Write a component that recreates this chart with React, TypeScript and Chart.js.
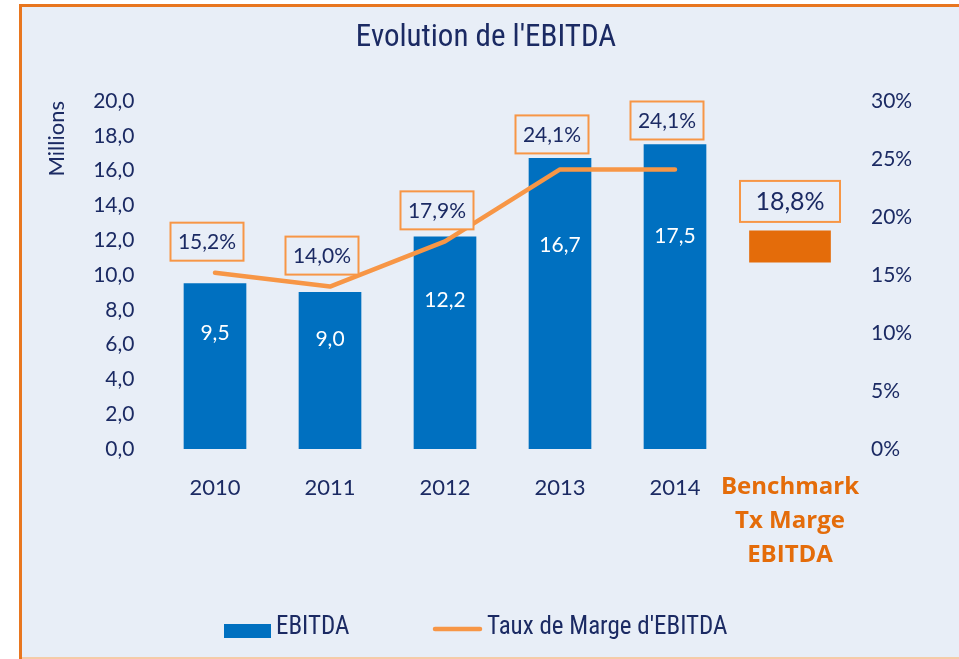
import React, { useEffect, useRef } from 'react';
import { Chart, registerables } from 'chart.js';

Chart.register(...registerables);

// ---- data ----
const categories: (string | string[])[] = ['2010', '2011', '2012', '2013', '2014', ['Benchmark', 'Tx Marge', 'EBITDA']];
const ebitdaMillions: number[] = [9.5, 9.0, 12.2, 16.7, 17.5];
const margeEbitdaPct: number[] = [15.2, 14.0, 17.9, 24.1, 24.1];
const benchmarkRangePct: [number, number] = [16.1, 18.8];
const benchmarkValuePct = 18.8;
const leftAxisRange = { min: 0, max: 20, step: 2 };
const rightAxisRange = { min: 0, max: 30, step: 5 };
const chartTitle = "Evolution de l'EBITDA";
const leftAxisTitle = 'Millions';
const legendBarLabel = 'EBITDA';
const legendLineLabel = "Taux de Marge d'EBITDA";

// ---- styles ----
const NAVY = '#1b2a63';
const BLUE = '#0070c0';
const LINE_ORANGE = '#f79646';
const BENCH_ORANGE = '#e46c0a';
const BG = '#e8eef7';
const BORDER_ORANGE = '#e8761f';
const NARROW = '"Liberation Sans Narrow", "Arial Narrow", "Roboto Condensed", "Open Sans", sans-serif';

const fmt = (v: number) => v.toFixed(1).replace('.', ',');

const bgPlugin = {
  id: 'bgPlugin',
  beforeDraw(chart: any) {
    const c = chart.ctx;
    const w = chart.width;
    const h = chart.height;
    c.save();
    c.fillStyle = '#ffffff';
    c.fillRect(0, 0, w, h);
    c.fillStyle = BG;
    c.fillRect(19, 4, w - 19, h - 4);
    c.fillStyle = BORDER_ORANGE;
    c.fillRect(19, 4, w - 19, 3);
    c.fillRect(19, 4, 3, h - 4);
    c.fillStyle = '#f5cba8';
    c.fillRect(22, h - 2, w - 22, 2);
    c.restore();
  },
};

function drawBox(c: CanvasRenderingContext2D, cx: number, bottom: number, w: number, h: number, text: string, font: string) {
  const x = cx - w / 2;
  const y = bottom - h;
  c.fillStyle = BG;
  c.fillRect(x, y, w, h);
  c.strokeStyle = LINE_ORANGE;
  c.lineWidth = 2;
  c.strokeRect(x, y, w, h);
  c.fillStyle = NAVY;
  c.font = font;
  c.textAlign = 'center';
  c.textBaseline = 'middle';
  c.fillText(text, cx, y + h / 2 + 1);
}

const labelPlugin = {
  id: 'labelPlugin',
  afterDatasetsDraw(chart: any) {
    const c = chart.ctx as CanvasRenderingContext2D;
    c.save();
    const barMeta = chart.getDatasetMeta(0);
    const lineMeta = chart.getDatasetMeta(1);
    const benchMeta = chart.getDatasetMeta(2);
    // values inside the bars
    ebitdaMillions.forEach((v, i) => {
      const el = barMeta.data[i];
      if (!el) return;
      const top = Math.min(el.y, el.base);
      const base = Math.max(el.y, el.base);
      c.fillStyle = '#ffffff';
      c.font = '21px Lato';
      c.textAlign = 'center';
      c.textBaseline = 'middle';
      c.fillText(fmt(v), el.x, top + (base - top) * 0.3);
    });
    // margin labels
    margeEbitdaPct.forEach((v, i) => {
      const pt = lineMeta.data[i];
      const bar = barMeta.data[i];
      if (!pt) return;
      const barTop = bar ? Math.min(bar.y, bar.base) : pt.y;
      const bottom = Math.min(pt.y - 12, barTop - 5);
      drawBox(c, pt.x - 8, bottom, 73, 38, fmt(v) + '%', '21px Lato');
    });
    // benchmark label
    const b = benchMeta.data[categories.length - 1];
    if (b) {
      const top = Math.min(b.y, b.base);
      drawBox(c, b.x, top - 9, 100, 41, fmt(benchmarkValuePct) + '%', '25px Lato');
    }
    c.restore();
  },
  afterDraw(chart: any) {
    const c = chart.ctx as CanvasRenderingContext2D;
    c.save();
    const ly = 630;
    // bar legend
    c.fillStyle = BLUE;
    c.fillRect(224, 624, 47, 14);
    c.fillStyle = NAVY;
    c.font = `25px ${NARROW}`;
    c.textAlign = 'left';
    c.textBaseline = 'middle';
    c.fillText(legendBarLabel, 276, ly - 2);
    // line legend
    c.strokeStyle = LINE_ORANGE;
    c.lineWidth = 4.5;
    c.lineCap = 'round';
    c.beginPath();
    c.moveTo(435, ly - 1);
    c.lineTo(480, ly - 1);
    c.stroke();
    c.fillText(legendLineLabel, 487, ly - 2);
    c.restore();
  },
};

export default function App() {
  const ref = useRef<HTMLCanvasElement | null>(null);

  useEffect(() => {
    if (!ref.current) return;
    const n = categories.length;
    const barData = [...ebitdaMillions, ...Array(n - ebitdaMillions.length).fill(null)];
    const lineData = [...margeEbitdaPct, ...Array(n - margeEbitdaPct.length).fill(null)];
    const benchData: any[] = [...Array(n - 1).fill(null), benchmarkRangePct];

    const chart = new Chart(ref.current, {
      type: 'bar',
      data: {
        labels: categories as any,
        datasets: [
          {
            type: 'bar',
            label: legendBarLabel,
            data: barData,
            backgroundColor: BLUE,
            yAxisID: 'y',
            barThickness: 62,
            grouped: false,
            order: 2,
          } as any,
          {
            type: 'line',
            label: legendLineLabel,
            data: lineData,
            borderColor: LINE_ORANGE,
            backgroundColor: LINE_ORANGE,
            borderWidth: 4.5,
            borderCapStyle: 'round',
            borderJoinStyle: 'round',
            pointRadius: 0,
            tension: 0,
            yAxisID: 'yPct',
            order: 0,
          } as any,
          {
            type: 'bar',
            label: 'Benchmark',
            data: benchData,
            backgroundColor: BENCH_ORANGE,
            yAxisID: 'yPct',
            barThickness: 81,
            grouped: false,
            order: 1,
          } as any,
        ],
      },
      options: {
        responsive: false,
        animation: false,
        devicePixelRatio: 1,
        layout: { padding: { left: 13, right: 0, top: 0, bottom: 0 } },
        plugins: {
          legend: { display: false },
          tooltip: { enabled: false },
          title: {
            display: true,
            text: chartTitle,
            color: NAVY,
            font: { family: NARROW, size: 31, weight: 'normal', lineHeight: 1.2 },
            padding: { top: 19.4, bottom: 44.4 },
          },
        },
        scales: {
          x: {
            offset: true,
            grid: { display: false, drawTicks: false },
            border: { display: false },
            ticks: {
              padding: 21,
              maxRotation: 0,
              autoSkip: false,
              color: (ctx: any) => (ctx.index === categories.length - 1 ? BENCH_ORANGE : NAVY),
              font: (ctx: any) =>
                ctx.index === categories.length - 1
                  ? { family: '"Open Sans", sans-serif', size: 24, weight: 'bold', lineHeight: 34 / 24 }
                  : { family: 'Lato', size: 22, lineHeight: 36 / 22 },
            },
            afterFit: (s: any) => {
              s.height = 210;
            },
          } as any,
          y: {
            position: 'left',
            min: leftAxisRange.min,
            max: leftAxisRange.max,
            grid: { display: false, drawTicks: false },
            border: { display: false },
            ticks: {
              stepSize: leftAxisRange.step,
              padding: 23,
              color: NAVY,
              font: { family: 'Lato', size: 21 },
              callback: (v: any) => fmt(Number(v)),
            },
            title: {
              display: true,
              text: leftAxisTitle,
              color: NAVY,
              align: 'end',
              font: { family: 'Lato', size: 22 },
              padding: { top: 31, bottom: 0 },
            },
            afterFit: (s: any) => {
              s.width = 144.5;
            },
          } as any,
          yPct: {
            position: 'right',
            min: rightAxisRange.min,
            max: rightAxisRange.max,
            grid: { display: false, drawTicks: false },
            border: { display: false },
            ticks: {
              stepSize: rightAxisRange.step,
              padding: 23.5,
              color: NAVY,
              font: { family: 'Lato', size: 21 },
              callback: (v: any) => `${v}%`,
            },
            afterFit: (s: any) => {
              s.width = 111.5;
            },
          } as any,
        },
      },
      plugins: [bgPlugin, labelPlugin],
    });

    const fonts = ['21px Lato', '22px Lato', '25px Lato', 'bold 24px "Open Sans"', '25px "Liberation Sans Narrow"'];
    Promise.all(fonts.map((f) => (document as any).fonts.load(f).catch(() => null))).then(() => {
      try {
        chart.update();
      } catch (e) {
        /* ignore */
      }
    });

    return () => chart.destroy();
  }, []);

  return (
    <div style={{ position: 'fixed', left: 0, top: 0, width: 959, height: 659, background: '#fff' }}>
      <canvas ref={ref} width={959} height={659} style={{ display: 'block', width: 959, height: 659 }} />
    </div>
  );
}
